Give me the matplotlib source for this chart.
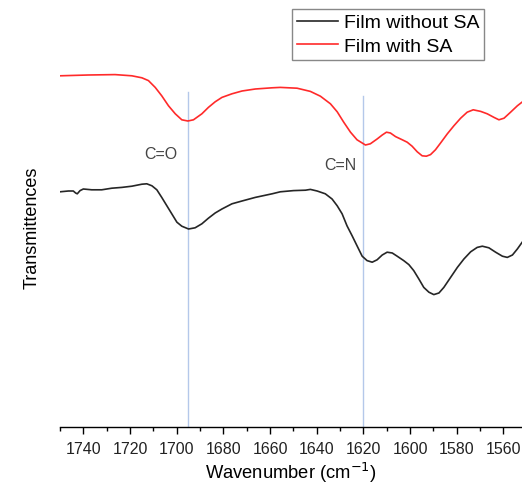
import matplotlib
matplotlib.use('agg')
import matplotlib.pyplot as plt
from matplotlib.ticker import MultipleLocator

plt.rcParams['font.family'] = ['Liberation Sans', 'DejaVu Sans']

# 红外光谱: 不含SA的膜
wn_without = [1750.0, 1746.4, 1744.3, 1743.3, 1742.6, 1741.4, 1740.0, 1736.4, 1732.1, 1727.8,
              1723.5, 1719.2, 1714.9, 1712.8, 1710.6, 1708.5, 1706.4, 1704.2, 1702.1, 1699.9,
              1697.8, 1694.9, 1692.1, 1689.2, 1686.4, 1683.5, 1680.6, 1676.3, 1672.0, 1666.3,
              1659.1, 1655.6, 1649.9, 1644.8, 1642.7, 1639.8, 1636.3, 1633.4, 1631.2, 1629.1,
              1627.0, 1624.8, 1622.7, 1620.5, 1618.4, 1616.2, 1614.1, 1611.9, 1609.8, 1607.6,
              1605.5, 1602.7, 1600.5, 1598.4, 1596.2, 1594.1, 1591.9, 1589.8, 1587.6, 1585.5,
              1582.6, 1579.7, 1576.9, 1574.0, 1571.2, 1569.0, 1566.2, 1563.3, 1560.4, 1558.3,
              1556.1, 1554.0, 1551.8]
t_without = [59.3, 59.5, 59.5, 59.0, 58.8, 59.6, 60.0, 59.8, 59.8, 60.2,
             60.4, 60.7, 61.2, 61.3, 60.8, 59.8, 57.9, 55.8, 53.8, 51.7,
             50.7, 50.0, 50.3, 51.3, 52.7, 54.0, 55.0, 56.3, 57.0, 57.9,
             58.8, 59.3, 59.6, 59.7, 59.9, 59.5, 58.8, 57.5, 55.8, 53.8,
             50.8, 48.3, 45.8, 43.2, 42.1, 41.7, 42.3, 43.5, 44.2, 44.0,
             43.2, 42.1, 41.1, 39.6, 37.5, 35.4, 34.2, 33.6, 34.0, 35.4,
             37.9, 40.4, 42.5, 44.3, 45.4, 45.7, 45.3, 44.2, 43.2, 42.9,
             43.5, 45.0, 46.8]

# 含SA的膜
wn_with = [1750.0, 1737.9, 1726.4, 1719.2, 1714.9, 1712.1, 1709.2, 1706.4, 1703.5, 1700.6,
           1697.8, 1695.2, 1692.8, 1689.2, 1686.4, 1683.5, 1680.6, 1676.3, 1672.0, 1666.3,
           1659.1, 1655.6, 1648.4, 1642.7, 1638.4, 1634.1, 1631.2, 1628.4, 1625.5, 1622.7,
           1619.1, 1617.0, 1614.1, 1611.9, 1610.1, 1608.4, 1606.2, 1603.3, 1601.2, 1599.1,
           1596.9, 1594.8, 1593.0, 1591.2, 1589.1, 1586.9, 1584.0, 1581.2, 1578.3, 1575.5,
           1572.9, 1569.7, 1566.9, 1564.0, 1561.9, 1559.7, 1556.9, 1554.0, 1551.8]
t_with = [88.3, 88.5, 88.6, 88.3, 87.8, 87.1, 85.4, 83.3, 80.8, 78.8,
          77.3, 77.0, 77.3, 78.8, 80.4, 81.8, 82.9, 83.8, 84.5, 85.0,
          85.3, 85.4, 85.2, 84.4, 83.2, 81.3, 79.3, 76.7, 74.2, 72.3,
          71.0, 71.3, 72.5, 73.5, 74.2, 74.0, 73.1, 72.3, 71.7, 70.7,
          69.3, 68.3, 68.2, 68.6, 69.8, 71.5, 73.8, 75.8, 77.7, 79.2,
          79.8, 79.4, 78.8, 77.9, 77.3, 77.7, 79.2, 80.8, 81.8]

# 特征峰位置
peak_labels = ['C=O', 'C=N']
peak_wn = [1695, 1620]
peak_top = [84.3, 83.3]
label_pos = [(1707, 68.8), (1629.8, 66.0)]

fig = plt.figure(figsize=(5.22, 4.89), dpi=100)
ax = fig.add_axes([60 / 522, 61 / 489, 462 / 522, 400 / 489])

for w, top in zip(peak_wn, peak_top):
    ax.plot([w, w], [0.5, top], color='#b4c8ea', lw=1.0, zorder=1)
for lab, (x, y) in zip(peak_labels, label_pos):
    ax.text(x, y, lab, ha='center', va='center', fontsize=11.5, color='#444444')

ax.plot(wn_without, t_without, color='#262626', lw=1.2, label='Film without SA',
        solid_joinstyle='round')
ax.plot(wn_with, t_with, color='#ff2a2a', lw=1.2, label='Film with SA',
        solid_joinstyle='round')

ax.set_xlim(1750, 1552)
ax.set_ylim(0.5, 100.5)
ax.xaxis.set_major_locator(MultipleLocator(20))
ax.xaxis.set_minor_locator(MultipleLocator(10))
ax.tick_params(axis='x', which='major', direction='out', length=5, width=1, labelsize=11.5,
               pad=5, labelcolor='#222222')
ax.tick_params(axis='x', which='minor', direction='out', length=3, width=1)
ax.set_yticks([])
for s in ['top', 'right', 'left']:
    ax.spines[s].set_visible(False)
ax.spines['bottom'].set_linewidth(1.0)

ax.set_xlabel('Wavenumber (cm$^{-1}$)', fontsize=13.2, labelpad=3)
ax.set_ylabel('Transmittences', fontsize=13, labelpad=14)

leg = ax.legend(loc='upper left', bbox_to_anchor=(292 / 522, 1 - 10 / 489),
                bbox_transform=fig.transFigure, fontsize=14, frameon=True, fancybox=False,
                edgecolor='#888888', framealpha=1, handlelength=2.1, handletextpad=0.3,
                borderpad=0.25, labelspacing=0.3, borderaxespad=0)
leg.get_frame().set_linewidth(1.0)

plt.savefig('out.png', dpi=100)
plt.close()
